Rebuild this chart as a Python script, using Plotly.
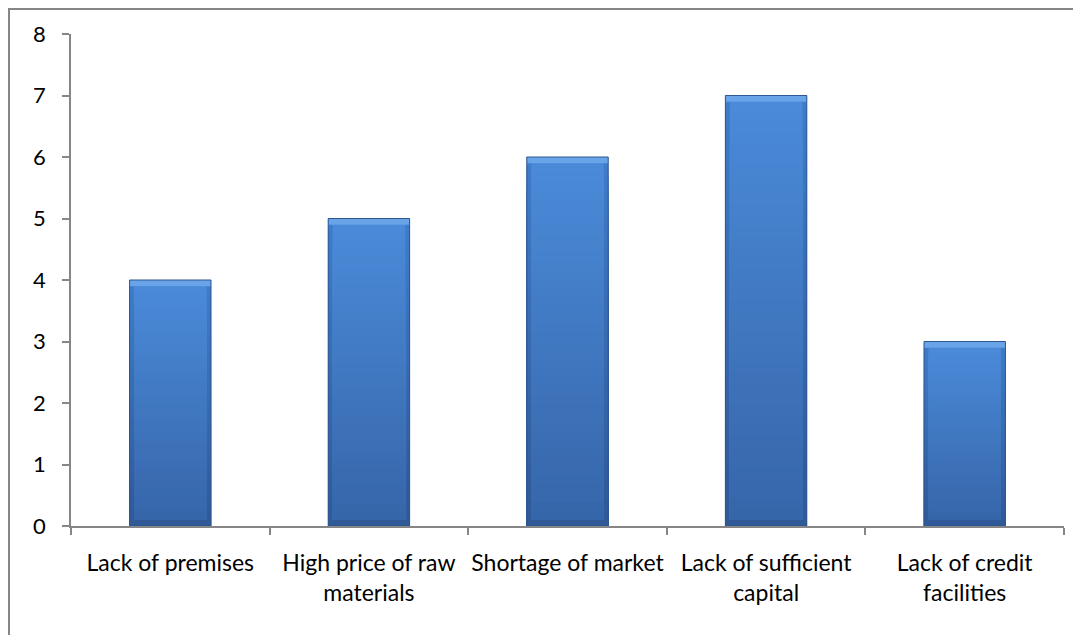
import plotly.graph_objects as go

categories = ["Lack of premises", "High price of raw<br>materials", "Shortage of market",
              "Lack of sufficient<br>capital", "Lack of credit<br>facilities"]
values = [4, 5, 6, 7, 3]
y_ticks = [0, 1, 2, 3, 4, 5, 6, 7, 8]

# page has an 8px body margin, so the figure is sized/offset to compensate
W, H = 1073, 627
L, R, T, B = 63, 17, 26, 109
pw, ph = W - L - R, H - T - B

def mix(c1, c2, t):
    a = [int(c1[i:i+2], 16) for i in (1, 3, 5)]
    b = [int(c2[i:i+2], 16) for i in (1, 3, 5)]
    return "#%02x%02x%02x" % tuple(round(a[k] + (b[k] - a[k]) * t) for k in range(3))

fig = go.Figure()
N = 40
bw_outer = 0.41
bw_inner = 0.365
bev = 0.1  # bevel thickness in value units

# outer (side bevel) gradient: overlapping bars from tallest to shortest
for k in range(N):
    frac = (N - k) / N
    fig.add_trace(go.Bar(
        x=categories, y=[v * frac for v in values],
        width=bw_outer, marker=dict(color=mix("#2f5896", "#3f7cca", frac), line=dict(width=0)),
        hoverinfo="skip", showlegend=False))
# inner gradient
for k in range(N):
    frac = (N - k) / N
    fig.add_trace(go.Bar(
        x=categories, y=[(v - 2 * bev) * frac for v in values], base=[bev] * len(values),
        width=bw_inner, marker=dict(color=mix("#3665a9", "#4a8ad8", frac), line=dict(width=0)),
        hoverinfo="skip", showlegend=False))
# top bevel
fig.add_trace(go.Bar(
    x=categories, y=[bev] * len(values), base=[v - bev for v in values],
    width=bw_outer, marker=dict(color="#6aa4e8", line=dict(width=0)),
    hoverinfo="skip", showlegend=False))
# outline
fig.add_trace(go.Bar(
    x=categories, y=values, width=bw_outer,
    marker=dict(color="rgba(0,0,0,0)", line=dict(color="#2c5790", width=1)),
    hoverinfo="skip", showlegend=False))

# outer frame
fig.add_shape(type="rect", xref="paper", yref="paper",
              x0=(1 - L) / pw, x1=(W + 10 - L) / pw,
              y0=-(H + 10 - T - ph) / ph, y1=1 + (T - 1) / ph,
              line=dict(color="#868686", width=2), layer="below")

fig.update_layout(
    width=W, height=H, barmode="overlay",
    margin=dict(l=L, r=R, t=T, b=B),
    paper_bgcolor="white", plot_bgcolor="white",
    font=dict(family="Lato, Open Sans, sans-serif", size=22, color="#000000"),
    xaxis=dict(showline=True, linecolor="#868686", linewidth=1.5, ticks="outside",
               tickson="boundaries", ticklen=7, tickcolor="#868686", tickwidth=1.5,
               showgrid=False, zeroline=False, fixedrange=True, ticklabelstandoff=16,
               tickfont=dict(size=23), tickangle=0, automargin=False),
    yaxis=dict(range=[0, 8], tickvals=y_ticks, showline=True, linecolor="#868686",
               linewidth=1.5, ticks="outside", ticklen=7, tickcolor="#868686", tickwidth=1.5,
               showgrid=False, zeroline=False, ticklabelstandoff=12, fixedrange=True,
               automargin=False),
)

fig.write_html("out.html")
